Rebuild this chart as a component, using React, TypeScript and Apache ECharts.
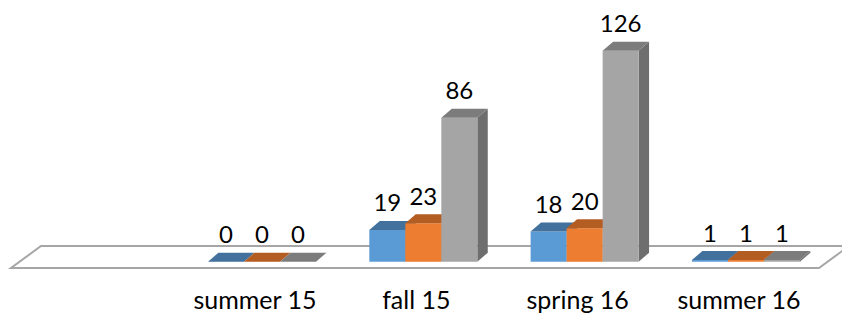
import React, { useEffect, useRef } from "react";
import * as echarts from "echarts";

const categories = ["summer 15", "fall 15", "spring 16", "summer 16"];
const seriesNames = ["Series 1", "Series 2", "Series 3"];
const series1 = [0, 19, 18, 1];
const series2 = [0, 23, 20, 1];
const series3 = [0, 86, 126, 1];
const seriesValues = [series1, series2, series3];

const faceColors = [
  { front: "#5b9bd5", top: "#41719c", side: "#3b6790" },
  { front: "#ed7d31", top: "#b45d22", side: "#a9561f" },
  { front: "#a5a5a5", top: "#7c7c7c", side: "#6e6e6e" },
];

export default function App() {
  const ref = useRef<HTMLDivElement>(null);
  useEffect(() => {
    if (!ref.current) return;
    const chart = echarts.init(ref.current, undefined, { renderer: "svg" });
    const makeSeries = (idx: number) => ({
      type: "custom",
      name: seriesNames[idx],
      data: seriesValues[idx].map((v, i) => [i, v]),
      encode: { x: 0, y: 1 },
      renderItem: (params: any, api: any) => {
        const cat = api.value(0);
        const v = api.value(1);
        const base = api.coord([cat, 0]);
        const top = api.coord([cat, v]);
        const catW = api.size([1, 0])[0];
        const barW = catW * 0.2232;
        const groupW = barW * 3;
        const x0 = base[0] - groupW / 2 + idx * barW;
        const dx = barW * 0.29;
        const dy = 9;
        const c = faceColors[idx];
        return {
          type: "group",
          children: [
            {
              type: "polygon",
              shape: {
                points: [
                  [x0 + barW, top[1]],
                  [x0 + barW + dx, top[1] - dy],
                  [x0 + barW + dx, base[1] - dy],
                  [x0 + barW, base[1]],
                ],
              },
              style: { fill: c.side },
            },
            {
              type: "rect",
              shape: { x: x0, y: top[1], width: barW, height: base[1] - top[1] },
              style: { fill: c.front },
            },
            {
              type: "polygon",
              shape: {
                points: [
                  [x0, top[1]],
                  [x0 + barW, top[1]],
                  [x0 + barW + dx, top[1] - dy],
                  [x0 + dx, top[1] - dy],
                ],
              },
              style: { fill: c.top },
            },
            {
              type: "text",
              x: x0 + barW / 2,
              y: top[1] - dy - 7,
              style: {
                text: String(v),
                align: "center",
                verticalAlign: "bottom",
                fontSize: 24,
                fontFamily: "Lato",
                fill: "#000",
              },
            },
          ],
        };
      },
    });
    chart.setOption({
      animation: false,
      grid: { left: 181.35, right: 15.4, top: 10.6, bottom: 52.3 },
      xAxis: {
        type: "category",
        data: categories,
        axisLine: { show: false },
        axisTick: { show: false },
        splitLine: { show: false },
        axisLabel: {
          interval: 0,
          margin: 24,
          fontSize: 25,
          lineHeight: 26,
          fontFamily: "Lato",
          color: "#000",
          padding: [0, 14, 0, 0],
        },
      },
      yAxis: {
        type: "value",
        min: 0,
        max: 150,
        show: false,
        splitLine: { show: false },
      },
      graphic: [
        {
          type: "polygon",
          z: -10,
          shape: {
            points: [
              [41, 246],
              [849, 246],
              [819, 268],
              [11, 268],
            ],
          },
          style: { fill: "#fff", stroke: "#a6a6a6", lineWidth: 2 },
        },
      ],
      series: [makeSeries(0), makeSeries(1), makeSeries(2)],
    });
    return () => chart.dispose();
  }, []);
  return (
    <div
      ref={ref}
      style={{ position: "absolute", left: 0, top: 0, width: 842, height: 314 }}
    />
  );
}
